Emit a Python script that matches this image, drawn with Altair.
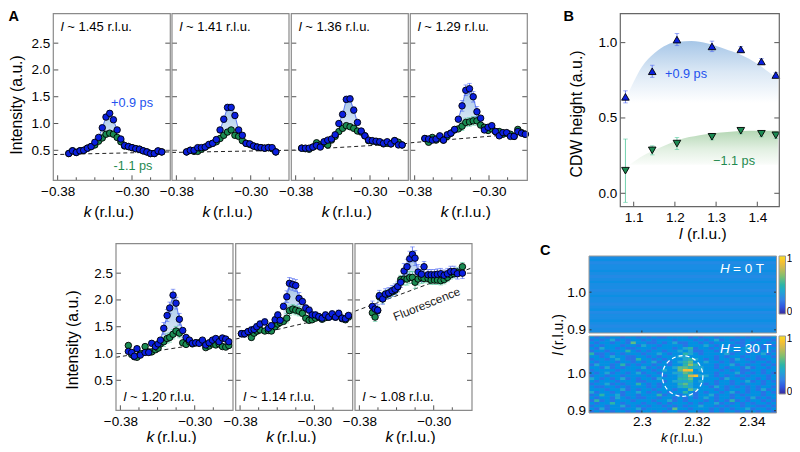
import altair as alt
import pandas as pd

FONT = "Liberation Sans"
BLUE, GREEN = "#0a1fe0", "#1a8a52"
BLUE_TXT, GREEN_TXT = "#2452ee", "#1f8a50"
BLUE_ERR, GREEN_ERR = "#4f68f2", "#4fc79a"
FRAME = "#8a8a8a"
W, H = 784, 436

KA = [-0.372,-0.368,-0.364,-0.360,-0.356,-0.352,-0.348,-0.344,-0.340,-0.336,-0.332,-0.328,-0.324,-0.320,-0.316,
      -0.312,-0.308,-0.304,-0.300,-0.296,-0.292,-0.288,-0.284,-0.280,-0.276,-0.272,-0.268,-0.264,-0.260]
KB = [-0.3785,-0.3750,-0.3714,-0.3678,-0.3649,-0.3621,-0.3585,-0.3534,-0.3495,-0.3463,-0.3423,-0.3394,-0.3369,
      -0.3333,-0.3297,-0.3269,-0.3233,-0.3201,-0.3165,-0.3129,-0.3093,-0.3057,-0.3025,-0.2989,-0.2953,-0.2917,
      -0.2881,-0.2845,-0.2809,-0.2773,-0.2738,-0.2702,-0.2666,-0.2633]
KC = [-0.3660,-0.3631,-0.3603,-0.3585,-0.3549,-0.3520,-0.3484,-0.3448,-0.3416,-0.3387,-0.3355,-0.3319,-0.3287,
      -0.3258,-0.3229,-0.3201,-0.3168,-0.3132,-0.3104,-0.3061,-0.3028,-0.2992,-0.2960,-0.2924,-0.2888,-0.2852,
      -0.2817,-0.2781,-0.2745,-0.2691]

B1 = [.44,.49,.46,.49,.50,.54,.57,.65,.74,.92,1.12,1.19,1.07,.88,.71,.59,.57,.55,.53,.52,.49,.47,.44,.44,.49,.47]
G1 = [.44,.49,.46,.49,.50,.54,.57,.60,.67,.73,.80,.82,.80,.74,.66,.58,.57,.55,.53,.52,.49,.47,.44,.44,.48,.47]
B2 = [.47,.50,.50,.55,.55,.56,.61,.63,.70,.88,1.08,1.30,1.30,1.15,.88,.78,.63,.62,.58,.56,.55,.54,.55,.55,.47]
G2 = [.47,.50,.48,.48,.52,.56,.60,.63,.66,.72,.78,.84,.88,.78,.76,.68,.63,.61,.58,.56,.55,.54,.55,.53,.47]
B3 = [.54,.54,.54,.56,.59,.56,.66,.69,.71,.79,1.00,1.17,1.45,1.46,1.25,1.02,.86,.77,.69,.68,.67,.66,.63,.66,.62,.68,.60,.60]
G3 = [.54,.53,.52,.56,.64,.60,.63,.60,.69,.76,.85,.91,.96,.94,.91,.86,.84,.77,.68,.67,.66,.65,.62,.63,.62,.68,.65,.60]
B4 = [.72,.71,.69,.71,.77,.69,.79,.82,.89,1.08,1.33,1.62,1.65,1.50,1.22,1.10,.88,.93,.96,.85,.77,.83,.83,.76,.76,.85,.82,.80]
G4 = [.72,.65,.74,.69,.73,.69,.76,.82,.88,.90,.95,1.02,1.03,1.05,1.05,.97,.93,.87,.90,.85,.85,.80,.82,.80,.76,.89,.83,.80]
B5 = [1.04,1.02,.95,1.09,.97,1.02,1.02,1.19,1.13,1.18,1.25,1.47,1.71,1.85,2.09,1.94,1.64,1.43,1.30,1.25,1.19,1.20,
      1.19,1.25,1.16,1.20,1.25,1.28,1.22,1.29,1.27,1.22]
G5 = [1.15,.98,.94,.93,1.0,1.13,1.03,1.03,1.07,1.10,1.18,1.22,1.28,1.30,1.36,1.42,1.38,1.20,1.17,1.22,1.18,1.2,
      1.2,1.22,1.11,1.14,1.18,1.16,1.18,1.13,1.12,1.15]
B6 = [1.37,1.37,1.41,1.44,1.45,1.50,1.55,1.59,1.47,1.52,1.63,1.72,1.62,1.88,2.06,2.31,2.29,2.27,2.03,1.97,1.85,1.81,
      1.72,1.72,1.69,1.66,1.72,1.68,1.74,1.68,1.75,1.66,1.65,1.71]
G6 = [1.37,1.37,1.40,1.30,1.38,1.42,1.44,1.42,1.43,1.42,1.50,1.55,1.58,1.60,1.66,1.80,1.83,1.81,1.79,1.75,1.66,1.62,
      1.63,1.66,1.68,1.64,1.67,1.68,1.70,1.68,1.72,1.65,1.63,1.68]
B7 = [1.88,1.83,1.81,2.08,2.02,2.11,2.13,2.17,2.20,2.25,2.33,2.54,2.62,2.77,2.85,2.78,2.52,2.48,2.62,2.47,2.47,2.47,
      2.48,2.49,2.46,2.49,2.53,2.53,2.49,2.50]
G7 = [1.76,1.68,1.80,2.06,2.02,2.09,2.12,2.15,2.18,2.24,2.38,2.39,2.39,2.42,2.42,2.33,2.39,2.42,2.40,2.40,2.37,2.37,
      2.37,2.36,2.38,2.42,2.47,2.49,2.52,2.62]

PANELS = [
    dict(l=53.3, t=13.7, b=180.3, k=KA[1:], s=0.0, bl=B1, gr=G1, sl=(8, 13), e=(.03,.05), bg=(.42,.47), name="1.45", yl=True),
    dict(l=172.0, t=13.7, b=180.3, k=KA[1:], s=-.001, bl=B2, gr=G2, sl=(9, 14), e=(.03,.06), bg=(.46,.50), name="1.41", yl=False),
    dict(l=291.3, t=13.7, b=180.3, k=KA, s=-.0015, bl=B3, gr=G3, sl=(10, 15), e=(.03,.06), bg=(.50,.63), name="1.36", yl=False),
    dict(l=410.3, t=13.7, b=180.3, k=KA[1:], s=-.001, bl=B4, gr=G4, sl=(9, 15), e=(.03,.10), bg=(.64,.82), name="1.29", yl=False),
    dict(l=116.0, t=243.7, b=410.3, k=KB[2:], s=0.0, bl=B5, gr=G5, sl=(10, 17), e=(.04,.11), bg=(.93,1.27), name="1.20", yl=True),
    dict(l=235.7, t=243.7, b=410.3, k=KB, s=0.0, bl=B6, gr=G6, sl=(13, 19), e=(.06,.11), bg=(1.27,1.77), name="1.14", yl=False),
    dict(l=355.0, t=243.7, b=410.3, k=KC, s=0.0, bl=B7, gr=G7, sl=(10, 18), e=(.10,.14), bg=(1.79,2.60), name="1.08", yl=False),
]
K_DOM = [-0.3847, -0.2588]
I_DOM = [-0.06, 3.05]
K_MAJOR = [-0.38, -0.30]
K_MINOR = [-0.36, -0.34, -0.32, -0.28]
I_TICKS = [0.5, 1.0, 1.5, 2.0, 2.5]

L_BLUE = [1.08,1.10,1.12,1.15,1.18,1.21,1.24,1.28,1.32,1.36,1.40,1.43,1.45]
H_BLUE = [.62,.74,.84,.93,.985,1.005,1.01,.995,.96,.92,.86,.80,.76]
L_GREEN = [1.08,1.10,1.13,1.17,1.21,1.26,1.32,1.38,1.45]
H_GREEN = [.17,.21,.26,.31,.355,.385,.405,.415,.415]
L_PTS = [1.08,1.145,1.205,1.29,1.36,1.41,1.445]
P_BLUE = [.64,.81,1.02,.975,.955,.875,.785]
E_BLUE = [.04,.04,.04,.035,.02,.02,.015]
P_GREEN = [.15,.285,.33,.375,.415,.395,.385]
E_GREEN = [.21,.03,.04,.02,.02,.02,.02]

HEAT_30T = [
"323233233232322333323233233323233223",
"232342323323233323332323423232332332",
"323323326332232342233232333322323323",
"232333233243323333233343233232333232",
"324332322333233323452332323333423233",
"233233353232332334342233233323322332",
"522323233323343233543233334233233423",
"332343322332323334433333232332332332",
"233234322533232333454323233243232233",
"323332332323423234563343323233323323",
"243323523233233233575333233423233232",
"332423233342323346654433232332423323",
"233332333233234336993433323232233233",
"323423323423323344653333233342323232",
"233233233332332334589443232323233323",
"432323423233243335563333324332332323",
"323332333223332344453433233233423232",
"233423233532323335643323233232333233",
"322332323332323334543332432323232332",
"333233423233233323364333232333232423",
"423323233432323233532323323423233232",
"235334233233352332342334233232333233",
"323324323223323323232343233233242323",
"252323332333233423233323232523233232",
"323353233323323233323233423232323323",
"233233423232332323233433232332332232",
"324233233423333263323332323233423323",
"232323323233232332233232323323232332",
]
HEAT_0T = [.28,.29,.27,.28,.28,.29,.28,.27,.28,.29,.28,.28,.27,.28,.29,.28,.28,.27,.28,.29,.27,.28,.28,.29,.28,.27,.28,.28]
CM_STOPS = [0, .12, .25, .4, .5, .65, .8, .9, 1]
CM_COLORS = ["#3a2a9a", "#2f55e0", "#3484e6", "#1fa8d0", "#2bb5a8", "#7fbf70", "#d0ba50", "#f8c030", "#f8e020"]
CIRCLE_K, CIRCLE_L = [2.3148], [0.992]


def X(v): return v - 8
def Y(v): return v - 8
def sc(dom, rng): return alt.Scale(domain=dom, range=rng, nice=False, zero=False)


def grad(pairs):
    return alt.LinearGradient(gradient="linear",
                              stops=[alt.GradientStop(color=c, offset=o) for o, c in pairs],
                              x1=0, x2=0, y1=0, y2=1)


one = pd.DataFrame({"t": [""]})
layers = []


def txt(x, y, s, size=13.5, color="black", italic=False, bold=False, align="left", angle=0):
    kw = dict(font=FONT, fontSize=size, color=color, align=align, baseline="middle")
    if italic: kw["fontStyle"] = "italic"
    if bold: kw["fontWeight"] = "bold"
    if angle: kw["angle"] = angle
    layers.append(alt.Chart(pd.DataFrame({"t": [s]})).mark_text(**kw).encode(
        x=alt.value(X(x)), y=alt.value(Y(y)), text="t:N"))


def frame(l, r, t, b, color=FRAME, width=1.2):
    layers.append(alt.Chart(one).mark_rect(filled=False, stroke=color, strokeWidth=width).encode(
        x=alt.value(X(l)), x2=alt.value(X(r)), y=alt.value(Y(t)), y2=alt.value(Y(b))))


def lab_axis_x(vals, b, fmt, pad=4):
    return alt.Axis(values=vals, orient="bottom", offset=Y(b) - H, ticks=False, domain=False, grid=False, title=None,
                    labelFont=FONT, labelFontSize=13.5, labelColor="black", labelPadding=pad, format=fmt,
                    labelOverlap=False, labelFlush=False)


def lab_axis_y(vals, l, fmt, pad=3.5):
    return alt.Axis(values=vals, orient="left", offset=-X(l), ticks=False, domain=False, grid=False, title=None,
                    labelFont=FONT, labelFontSize=13.5, labelColor="black", labelPadding=pad, format=fmt,
                    labelOverlap=False, labelFlush=False)


def xticks(vals, xs, b, length, axis=None, color="#555555"):
    layers.append(alt.Chart(pd.DataFrame({"v": vals})).mark_rule(color=color, strokeWidth=1).encode(
        x=alt.X("v:Q", scale=xs, axis=axis), y=alt.value(Y(b)), y2=alt.value(Y(b) - length)))


def yticks(vals, ys, l, r, length, axis=None, color="#555555"):
    d = pd.DataFrame({"v": vals})
    layers.append(alt.Chart(d).mark_rule(color=color, strokeWidth=1).encode(
        y=alt.Y("v:Q", scale=ys, axis=axis), x=alt.value(X(l)), x2=alt.value(X(l) + length)))
    layers.append(alt.Chart(d).mark_rule(color=color, strokeWidth=1).encode(
        y=alt.Y("v:Q", scale=ys, axis=None), x=alt.value(X(r)), x2=alt.value(X(r) - length)))


def errs(df, xf, lo, hi, xs, ys, color):
    layers.append(alt.Chart(df).mark_rule(color=color, strokeWidth=0.8).encode(
        x=alt.X(f"{xf}:Q", scale=xs, axis=None), y=alt.Y(f"{lo}:Q", scale=ys, axis=None), y2=f"{hi}:Q"))
    for f in (lo, hi):
        layers.append(alt.Chart(df).mark_tick(color=color, thickness=0.8, size=4.5, orient="horizontal").encode(
            x=alt.X(f"{xf}:Q", scale=xs, axis=None), y=alt.Y(f"{f}:Q", scale=ys, axis=None)))


def points(df, xf, yf, xs, ys, color, size=42, shape="circle"):
    layers.append(alt.Chart(df).mark_point(filled=True, fill=color, stroke="black", strokeWidth=0.9, size=size,
                                           opacity=1, shape=shape).encode(
        x=alt.X(f"{xf}:Q", scale=xs, axis=None), y=alt.Y(f"{yf}:Q", scale=ys, axis=None)))


# ---------- Panel A
for p in PANELS:
    l, t, b = p["l"], p["t"], p["b"]
    r = l + 117
    xs = sc(K_DOM, [X(l), X(r)])
    ys = sc(I_DOM, [Y(b), Y(t)])
    n = len(p["bl"])
    s0, s1 = p["sl"]
    e = [p["e"][1] if s0 + 1 <= i <= s1 - 1 else p["e"][0] for i in range(n)]
    df = pd.DataFrame({"k": [v + p["s"] for v in p["k"][:n]], "b": p["bl"], "g": p["gr"]})
    df["bl"] = [a - c for a, c in zip(p["bl"], e)]
    df["bh"] = [a + c for a, c in zip(p["bl"], e)]
    df["gl"] = [a - c * .8 for a, c in zip(p["gr"], e)]
    df["gh"] = [a + c * .8 for a, c in zip(p["gr"], e)]
    pk = df.iloc[s0:s1 + 1]
    layers.append(alt.Chart(pk).mark_area(fill=grad([(0, "#a3c4e6"), (1, "#e6f0fa")])).encode(
        x=alt.X("k:Q", scale=xs, axis=None), y=alt.Y("b:Q", scale=ys, axis=None), y2="g:Q"))
    layers.append(alt.Chart(pd.DataFrame({"k": K_DOM, "v": p["bg"]})).mark_line(
        color="#222222", strokeWidth=1, strokeDash=[4, 3]).encode(
        x=alt.X("k:Q", scale=xs, axis=None), y=alt.Y("v:Q", scale=ys, axis=None)))
    errs(df, "k", "gl", "gh", xs, ys, GREEN_ERR)
    errs(df, "k", "bl", "bh", xs, ys, BLUE_ERR)
    layers.append(alt.Chart(pk).mark_line(color="#3a5cf0", strokeWidth=0.8).encode(
        x=alt.X("k:Q", scale=xs, axis=None), y=alt.Y("b:Q", scale=ys, axis=None)))
    points(df, "k", "g", xs, ys, GREEN)
    points(df, "k", "b", xs, ys, BLUE)
    xticks(K_MAJOR, xs, b, 5, axis=lab_axis_x(K_MAJOR, b, ".2f"))
    xticks(K_MINOR, xs, b, 3)
    yticks(I_TICKS, ys, l, r, 5, axis=lab_axis_y(I_TICKS, l, ".1f") if p["yl"] else None)
    frame(l, r, t, b)
    ly = t + 13 if t < 100 else b - 13.7
    txt(l + 7.5, ly, "l", 13, italic=True)
    txt(l + 14, ly, f"~ {p['name']} r.l.u.", 13)
    ty = b + 31.5 if t < 100 else 437
    txt(l + 30.5, ty, "k", 15.5, italic=True)
    txt(l + 41, ty, "(r.l.u.)", 15.5)

txt(16.5, 105, "Intensity (a.u.)", 15.7, align="center", angle=270)
txt(73, 340, "Intensity (a.u.)", 15.7, align="center", angle=270)
txt(132, 102.7, "+0.9 ps", 12.7, BLUE_TXT, align="center")
txt(133, 165.7, "-1.1 ps", 12.7, GREEN_TXT, align="center")
txt(426.7, 304, "Fluorescence", 11.8, "#222222", align="center", angle=338)
txt(8.5, 17, "A", 14.5, bold=True)
txt(563.5, 17, "B", 14.5, bold=True)
txt(540, 251, "C", 14.5, bold=True)

# ---------- Panel B
bl, br, bt, bb = 620.3, 779.3, 13.7, 206.7
bxs = sc([1.0675, 1.4534], [X(bl), X(br)])
bys = sc([-0.089, 1.192], [Y(bb), Y(bt)])
for ls, hs, c0, c1, base in ((L_BLUE, H_BLUE, "#a6c6e7", "#dbe8f5", .6), (L_GREEN, H_GREEN, "#b4d7b4", "#e2f0e2", .19)):
    d = pd.DataFrame({"l": ls, "h": hs, "base": [base] * len(ls)})
    layers.append(alt.Chart(d).mark_area(interpolate="monotone", fill=grad([(0, c0), (.5, c1), (1, "#ffffff")])).encode(
        x=alt.X("l:Q", scale=bxs, axis=None), y=alt.Y("h:Q", scale=bys, axis=None), y2="base:Q"))
db = pd.DataFrame({"l": L_PTS, "b": P_BLUE, "g": P_GREEN})
db["bl"] = [a - e for a, e in zip(P_BLUE, E_BLUE)]
db["bh"] = [a + e for a, e in zip(P_BLUE, E_BLUE)]
db["gl"] = [a - e for a, e in zip(P_GREEN, E_GREEN)]
db["gh"] = [a + e for a, e in zip(P_GREEN, E_GREEN)]
errs(db, "l", "gl", "gh", bxs, bys, GREEN_ERR)
errs(db, "l", "bl", "bh", bxs, bys, BLUE_ERR)
points(db, "l", "b", bxs, bys, BLUE, size=58, shape="triangle-up")
points(db, "l", "g", bxs, bys, GREEN, size=58, shape="triangle-down")
xticks([1.1, 1.2, 1.3, 1.4], bxs, bb, 5, axis=lab_axis_x([1.1, 1.2, 1.3, 1.4], bb, ".1f", 3.5))
yticks([0.0, 0.5, 1.0], bys, bl, br, 5, axis=lab_axis_y([0.0, 0.5, 1.0], bl, ".1f"))
frame(bl, br, bt, bb, "#666666")
txt(686, 74, "+0.9 ps", 12.7, BLUE_TXT, align="center")
txt(734, 161, "\u22121.1 ps", 12.7, GREEN_TXT, align="center")
txt(576.7, 114, "CDW height (a.u.)", 15.9, align="center", angle=270)
txt(679, 233.5, "l", 15.5, italic=True)
txt(687, 233.5, "(r.l.u.)", 15.5)

# ---------- Panel C
cl, cr = 589, 776.5
cxs = sc([2.2808, 2.3489], [X(cl), X(cr)])
color = alt.Color("v:Q", scale=alt.Scale(domain=CM_STOPS, range=CM_COLORS), legend=None)
hot = pd.DataFrame([{"row": i, "col": j, "v": int(ch) / 10} for i, row in enumerate(HEAT_30T) for j, ch in enumerate(row)])
cold = pd.DataFrame({"row": list(range(len(HEAT_0T))), "v": HEAT_0T})
for t, b in ((256, 333), (336, 413)):
    layers.append(alt.Chart(one).mark_rect(fill="#2f86e2").encode(
        x=alt.value(X(cl)), x2=alt.value(X(cr)), y=alt.value(Y(t)), y2=alt.value(Y(b))))
layers.append(alt.Chart(cold).mark_rect().encode(
    x=alt.value(X(cl)), x2=alt.value(X(cr)),
    y=alt.Y("row:O", scale=alt.Scale(range=[Y(256), Y(333)], paddingInner=0, paddingOuter=0), axis=None),
    color=color))
layers.append(alt.Chart(hot).mark_rect().encode(
    x=alt.X("col:O", scale=alt.Scale(range=[X(cl), X(cr)], paddingInner=0, paddingOuter=0), axis=None),
    y=alt.Y("row:O", scale=alt.Scale(range=[Y(336), Y(413)], paddingInner=0, paddingOuter=0), axis=None),
    color=color))
for t, b, l_dom in ((256, 333, [0.8916, 1.0959]), (336, 413, [0.8939, 1.0982])):
    cys = sc(l_dom, [Y(b), Y(t)])
    xticks([2.3, 2.32, 2.34], cxs, b, 2.5, axis=lab_axis_x([2.3, 2.32, 2.34], b, ".2~f", 1.5) if t > 300 else None,
           color="#333333")
    yticks([0.9, 1.0], cys, cl, cr, 2.5, axis=lab_axis_y([0.9, 1.0], cl, ".1f"), color="#333333")
    frame(cl, cr, t, b, "#999999", 1)
    layers.append(alt.Chart(one).mark_rect(
        fill=grad([(1 - s, c) for s, c in reversed(list(zip(CM_STOPS, CM_COLORS)))]),
        stroke="#999999", strokeWidth=1).encode(
        x=alt.value(X(779)), x2=alt.value(X(785.5)), y=alt.value(Y(t)), y2=alt.value(Y(t + 58))))
    txt(786.8, t + 3, "1", 10)
    txt(786.8, t + 56, "0", 10)
cys2 = sc([0.8939, 1.0982], [Y(413), Y(336)])
layers.append(alt.Chart(pd.DataFrame({"k": CIRCLE_K, "l": CIRCLE_L})).mark_point(
    shape="circle", filled=False, stroke="white", strokeWidth=1.2, strokeDash=[4, 3], size=1650, opacity=1).encode(
    x=alt.X("k:Q", scale=cxs, axis=None), y=alt.Y("l:Q", scale=cys2, axis=None)))
txt(720, 269, "H", 13.5, "white", italic=True)
txt(733, 269, "= 0 T", 13.5, "white")
txt(720, 349, "H", 13.5, "white", italic=True)
txt(733, 349, "= 30 T", 13.5, "white")
txt(559, 354, "l", 14, italic=True, align="center", angle=270)
txt(559, 332, "(r.l.u.)", 14, align="center", angle=270)
txt(661, 437.5, "k", 13, italic=True)
txt(669.5, 437.5, "(r.l.u.)", 13)

chart = alt.layer(*layers).resolve_scale(x="independent", y="independent", color="independent").properties(
    width=W, height=H, padding=0, autosize=alt.AutoSizeParams(type="none"), background="white"
).configure_view(stroke=None)
chart.save("out.html", embed_options={"renderer": "svg", "actions": False})
